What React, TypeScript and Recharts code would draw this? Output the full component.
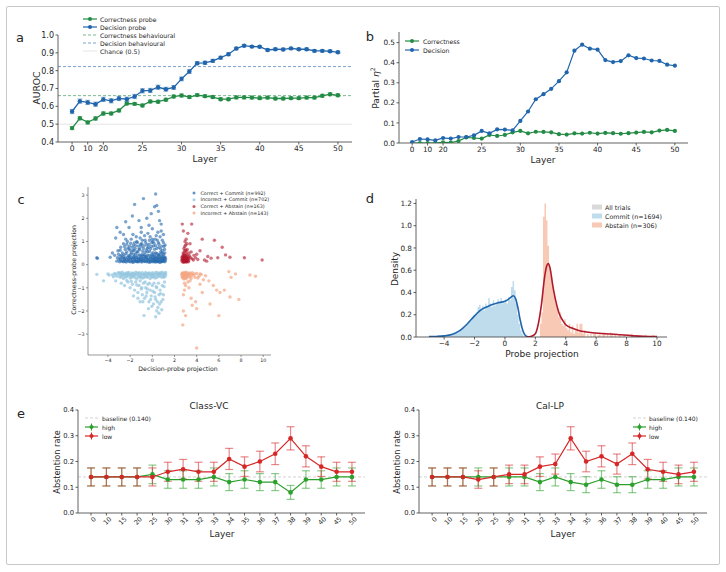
import React from 'react';
import {
  ComposedChart, LineChart, ScatterChart, Line, Area, Scatter,
  XAxis, YAxis, ReferenceLine, ErrorBar,
} from 'recharts';

const FONT = '"DejaVu Sans", Verdana, sans-serif';
const INK = '#262626';
const AXIS = '#3a3a3a';
const GREEN = '#238b45';
const BLUE = '#2166ac';
const RED = '#b2182b';
const LIGHT_BLUE = '#92c5de';
const PEACH = '#f4a582';
const E_GREEN = '#2ca02c';
const E_RED = '#d62728';

// ---- panels a / b : probe metrics per layer
const probeLayers = [0, 5, 10, 15, 20, 21, 22, 23, 24, 25, 26, 27, 28, 29, 30, 31, 32, 33, 34, 35, 36, 37, 38, 39, 40, 41, 42, 43, 44, 45, 46, 47, 48, 49, 50];
const probeTicks = [0, 10, 20, 25, 30, 35, 40, 45, 50];
const corrAuroc = [0.478, 0.533, 0.51, 0.532, 0.56, 0.56, 0.577, 0.616, 0.614, 0.605, 0.627, 0.626, 0.637, 0.655, 0.661, 0.652, 0.663, 0.657, 0.652, 0.64, 0.64, 0.65, 0.65, 0.649, 0.646, 0.649, 0.644, 0.644, 0.646, 0.646, 0.649, 0.649, 0.659, 0.668, 0.662];
const corrAurocErr = [0.009, 0.009, 0.009, 0.009, 0.009, 0.008, 0.008, 0.008, 0.008, 0.008, 0.008, 0.008, 0.008, 0.008, 0.008, 0.008, 0.008, 0.008, 0.008, 0.008, 0.008, 0.008, 0.008, 0.008, 0.008, 0.008, 0.008, 0.008, 0.008, 0.008, 0.008, 0.008, 0.008, 0.008, 0.008];
const decAuroc = [0.571, 0.629, 0.622, 0.612, 0.639, 0.631, 0.644, 0.64, 0.655, 0.687, 0.689, 0.707, 0.696, 0.706, 0.754, 0.795, 0.842, 0.844, 0.855, 0.873, 0.892, 0.924, 0.94, 0.935, 0.934, 0.916, 0.92, 0.919, 0.925, 0.92, 0.92, 0.911, 0.911, 0.909, 0.903];
const decAurocErr = [0.012, 0.012, 0.012, 0.012, 0.012, 0.012, 0.012, 0.012, 0.012, 0.012, 0.012, 0.012, 0.011, 0.011, 0.011, 0.01, 0.009, 0.009, 0.009, 0.008, 0.008, 0.007, 0.006, 0.006, 0.006, 0.007, 0.007, 0.007, 0.006, 0.007, 0.007, 0.007, 0.007, 0.007, 0.007];
const corrEta = [0.0, 0.0, 0.0, 0.0, 0.003, 0.002, 0.01, 0.028, 0.025, 0.022, 0.04, 0.035, 0.04, 0.053, 0.06, 0.048, 0.056, 0.055, 0.053, 0.044, 0.042, 0.048, 0.047, 0.051, 0.047, 0.05, 0.049, 0.046, 0.049, 0.052, 0.055, 0.053, 0.062, 0.065, 0.06];
const decEta = [0.005, 0.02, 0.018, 0.013, 0.025, 0.022, 0.03, 0.03, 0.038, 0.06, 0.048, 0.068, 0.067, 0.063, 0.11, 0.157, 0.218, 0.243, 0.27, 0.308, 0.352, 0.46, 0.49, 0.47, 0.465, 0.413, 0.403, 0.408, 0.437, 0.423, 0.421, 0.411, 0.409, 0.39, 0.385];
const corrBehaviour = 0.66;
const decBehaviour = 0.823;
const chanceLevel = 0.5;

// ---- panel c : probe projections per trial (x = decision, y = correctness)
const correctCommit: [number, number][] = [
  [-3.0, 0.22], [-2.9, 0.35], [-2.8, 0.15], [-2.7, 0.28], [-2.6, 0.12], [-2.55, 0.42], [-2.5, 0.2], [-2.4, 0.3], [-2.35, 0.11], [-2.3, 0.55],
  [-2.2, 0.18], [-2.15, 0.38], [-2.1, 0.25], [-2.0, 0.12], [-1.95, 0.45], [-1.9, 0.3], [-1.85, 0.16], [-1.8, 0.22], [-1.75, 0.6], [-1.7, 0.1],
  [-1.65, 0.35], [-1.6, 0.25], [-1.55, 0.14], [-1.5, 0.48], [-1.45, 0.2], [-1.4, 0.3], [-1.35, 0.12], [-1.3, 0.4], [-1.25, 0.18], [-1.2, 0.26],
  [-1.15, 0.65], [-1.1, 0.15], [-1.05, 0.33], [-1.0, 0.21], [-0.95, 0.11], [-0.9, 0.44], [-0.85, 0.27], [-0.8, 0.17], [-0.75, 0.36], [-0.7, 0.13],
  [-0.65, 0.52], [-0.6, 0.23], [-0.55, 0.31], [-0.5, 0.12], [-0.45, 0.4], [-0.4, 0.19], [-0.35, 0.28], [-0.3, 0.1], [-0.25, 0.58], [-0.2, 0.22],
  [-0.15, 0.34], [-0.1, 0.15], [-0.05, 0.46], [0.0, 0.25], [0.05, 0.12], [0.1, 0.37], [0.15, 0.2], [0.2, 0.3], [0.25, 0.11], [0.3, 0.5],
  [0.35, 0.24], [0.4, 0.16], [0.45, 0.33], [0.5, 0.13], [0.55, 0.42], [0.6, 0.21], [0.65, 0.29], [0.7, 0.1], [0.75, 0.55], [0.8, 0.18],
  [0.85, 0.36], [0.9, 0.14], [0.95, 0.27], [1.0, 0.45], [1.05, 0.2], [1.1, 0.12], [1.15, 0.32], [1.2, 0.24],
  [-3.2, 0.15], [-3.15, 0.3], [-3.05, 0.45], [-2.95, 0.12], [-2.88, 0.24], [-2.78, 0.4], [-2.68, 0.16], [-2.62, 0.33], [-2.52, 0.26], [-2.45, 0.14],
  [-2.38, 0.47], [-2.28, 0.22], [-2.18, 0.32], [-2.12, 0.14], [-2.02, 0.36], [-1.98, 0.24], [-1.88, 0.52], [-1.82, 0.11], [-1.72, 0.3], [-1.68, 0.44],
  [-1.58, 0.19], [-1.52, 0.34], [-1.42, 0.13], [-1.38, 0.56], [-1.28, 0.27], [-1.22, 0.12], [-1.12, 0.42], [-1.08, 0.23], [-0.98, 0.36], [-0.92, 0.16],
  [-0.88, 0.58], [-0.78, 0.26], [-0.72, 0.42], [-0.62, 0.14], [-0.58, 0.35], [-0.48, 0.24], [-0.42, 0.55], [-0.32, 0.17], [-0.28, 0.4], [-0.18, 0.11],
  [-0.12, 0.28], [-0.02, 0.38], [0.02, 0.16], [0.08, 0.52], [0.12, 0.26], [0.18, 0.14], [0.22, 0.42], [0.28, 0.2], [0.32, 0.33], [0.38, 0.12],
  [0.42, 0.48], [0.48, 0.27], [0.52, 0.17], [0.58, 0.38], [0.62, 0.11], [0.68, 0.45], [0.72, 0.24], [0.78, 0.32], [0.82, 0.12], [0.88, 0.5],
  [0.92, 0.22], [0.98, 0.15], [1.02, 0.35], [1.08, 0.28], [1.12, 0.5], [1.18, 0.16],
  [-3.4, 0.4], [-3.1, 0.6], [-2.85, 0.75], [-2.6, 0.9], [-2.45, 0.65], [-2.25, 1.0], [-2.05, 0.8], [-1.9, 1.1], [-1.7, 0.85], [-1.55, 0.7],
  [-1.4, 1.0], [-1.25, 0.8], [-1.1, 1.15], [-0.95, 0.9], [-0.8, 0.7], [-0.65, 1.05], [-0.5, 0.85], [-0.35, 0.75], [-0.2, 1.2], [-0.05, 0.95],
  [0.1, 0.8], [0.25, 1.1], [0.4, 0.7], [0.55, 0.95], [0.7, 1.2], [0.85, 0.8], [1.0, 0.95], [1.1, 0.65], [-2.7, 0.5], [-2.0, 0.62],
  [-1.3, 0.55], [-0.55, 0.62], [0.2, 0.66], [0.9, 0.6], [-1.75, 1.3], [-0.4, 1.35], [0.5, 1.4], [-2.2, 0.72], [-1.0, 0.78], [0.05, 1.0],
  [0.6, 0.75], [-1.6, 0.95], [-0.15, 0.68], [1.15, 0.85],
  [-2.9, 0.62], [-2.5, 0.78], [-2.3, 0.88], [-2.1, 0.68], [-1.95, 0.92], [-1.8, 0.75], [-1.65, 0.62], [-1.5, 0.82], [-1.35, 0.95], [-1.2, 0.68],
  [-1.05, 0.88], [-0.9, 1.05], [-0.75, 0.82], [-0.6, 0.95], [-0.45, 0.7], [-0.3, 0.88], [-0.1, 0.78], [0.0, 1.1], [0.15, 0.92], [0.3, 0.82],
  [0.45, 1.05], [0.6, 0.88], [0.75, 0.68], [0.9, 1.05], [1.05, 0.78], [-1.45, 1.2], [-0.7, 1.25], [0.35, 1.25], [-2.4, 1.1], [-1.0, 1.4],
  [0.8, 1.45], [-0.25, 1.05],
  [-5.0, 0.3], [-4.95, 0.27], [-3.8, 0.32], [-3.6, 0.5], [-3.3, 1.15], [-3.2, 1.6], [-2.9, 1.4], [-2.4, 1.85], [-2.1, 1.6], [-1.8, 2.1],
  [-1.6, 2.6], [-1.2, 1.9], [-1.0, 1.6], [-0.8, 2.85], [-0.5, 2.0], [-0.3, 1.7], [0.0, 1.55], [0.2, 2.5], [0.3, 3.05], [0.4, 2.55],
  [0.55, 2.3], [0.8, 1.75], [1.0, 1.3], [-2.6, 1.3], [-0.1, 2.2], [0.65, 1.9],
];
const incorrectCommit: [number, number][] = [
  [-3.6, -0.45], [-3.4, -0.38], [-3.2, -0.5], [-3.0, -0.35], [-2.9, -0.55], [-2.8, -0.42], [-2.7, -0.33], [-2.6, -0.6], [-2.5, -0.46], [-2.4, -0.37],
  [-2.3, -0.52], [-2.2, -0.4], [-2.1, -0.34], [-2.0, -0.58], [-1.9, -0.44], [-1.8, -0.36], [-1.7, -0.5], [-1.6, -0.41], [-1.5, -0.33], [-1.4, -0.62],
  [-1.3, -0.47], [-1.2, -0.38], [-1.1, -0.54], [-1.0, -0.43], [-0.9, -0.35], [-0.8, -0.57], [-0.7, -0.45], [-0.6, -0.34], [-0.5, -0.51], [-0.4, -0.4],
  [-0.3, -0.36], [-0.2, -0.6], [-0.1, -0.44], [0.0, -0.35], [0.1, -0.53], [0.2, -0.41], [0.3, -0.34], [0.4, -0.56], [0.5, -0.43], [0.6, -0.37],
  [0.7, -0.5], [0.8, -0.4], [0.9, -0.33], [1.0, -0.48], [1.1, -0.38], [1.2, -0.42], [-2.55, -0.4], [-1.95, -0.48], [-1.35, -0.36], [-0.75, -0.41],
  [-0.15, -0.47], [0.45, -0.35], [1.05, -0.55],
  [-3.5, -0.52], [-3.3, -0.42], [-3.1, -0.36], [-2.95, -0.47], [-2.85, -0.36], [-2.75, -0.52], [-2.65, -0.44], [-2.45, -0.55], [-2.35, -0.43], [-2.25, -0.35],
  [-2.15, -0.48], [-2.05, -0.41], [-1.85, -0.55], [-1.75, -0.38], [-1.65, -0.47], [-1.55, -0.56], [-1.45, -0.42], [-1.25, -0.53], [-1.15, -0.35], [-1.05, -0.49],
  [-0.95, -0.58], [-0.85, -0.45], [-0.65, -0.52], [-0.55, -0.39], [-0.45, -0.55], [-0.35, -0.46], [-0.25, -0.37], [-0.05, -0.55], [0.05, -0.4], [0.15, -0.48],
  [0.25, -0.58], [0.35, -0.45], [0.55, -0.5], [0.65, -0.42], [0.75, -0.35], [0.85, -0.55], [0.95, -0.44], [1.15, -0.5], [1.2, -0.34], [-4.0, -0.4],
  [-5.0, -0.42], [-4.4, -0.7], [-3.9, -0.45], [-3.3, -0.7], [-2.8, -0.8], [-2.5, -0.9], [-2.2, -0.75], [-2.0, -1.0], [-1.8, -0.85], [-1.6, -1.1],
  [-1.5, -0.75], [-1.3, -1.2], [-1.2, -0.9], [-1.0, -1.05], [-0.9, -1.3], [-0.8, -0.8], [-0.7, -1.45], [-0.6, -1.0], [-0.5, -1.2], [-0.4, -0.85],
  [-0.3, -1.6], [-0.2, -1.1], [-0.1, -1.35], [0.0, -0.9], [0.1, -1.7], [0.2, -1.2], [0.3, -1.5], [0.4, -1.0], [0.5, -1.85], [0.6, -1.3],
  [0.7, -1.1], [0.8, -1.6], [0.9, -0.9], [1.0, -1.3], [1.1, -0.75], [-0.75, -2.2], [0.3, -2.25], [0.6, -2.1], [-0.35, -1.9], [-1.1, -1.6],
  [-1.7, -1.35], [0.85, -1.95],
  [-2.3, -0.68], [-1.9, -0.72], [-1.4, -0.88], [-1.1, -0.7], [-0.95, -1.0], [-0.65, -0.75], [-0.55, -1.35], [-0.45, -1.05], [-0.25, -0.8], [-0.15, -1.5],
  [0.05, -1.15], [0.15, -0.8], [0.25, -1.4], [0.35, -0.95], [0.45, -1.6], [0.55, -0.8], [0.65, -1.7], [0.75, -1.25], [0.95, -1.5], [1.05, -0.95],
  [-0.05, -1.8], [0.4, -2.0], [-1.3, -1.45], [-0.85, -1.6],
];
const correctAbstain: [number, number][] = [
  [2.65, 0.2], [2.7, 0.12], [2.72, 0.3], [2.75, 0.18], [2.8, 0.25], [2.82, 0.1], [2.85, 0.35], [2.88, 0.15], [2.9, 0.22], [2.92, 0.4],
  [2.95, 0.13], [2.98, 0.28], [3.0, 0.18], [3.02, 0.33], [3.05, 0.11], [3.08, 0.24], [3.1, 0.45], [3.12, 0.16], [3.15, 0.3], [3.2, 0.2],
  [3.25, 0.12], [3.3, 0.27], [3.35, 0.38], [2.78, 0.5], [2.9, 0.6], [3.05, 0.55], [2.85, 0.7], [3.0, 0.85], [3.15, 0.65], [2.95, 1.0],
  [3.05, 1.1], [2.8, 1.45], [3.2, 1.35], [2.7, 1.75], [3.55, 1.75], [3.75, 0.4], [3.9, 0.3], [4.1, 0.22], [3.5, 0.55], [4.3, 0.6],
  [4.5, 1.1], [4.7, 0.2], [5.0, 0.35], [5.3, 0.28], [5.6, 1.05], [5.9, 0.3], [6.3, 0.75], [6.6, 0.42], [7.0, 0.32], [8.3, 0.3],
  [9.9, 0.2], [3.4, 0.9], [3.6, 0.25], [4.0, 0.45], [4.9, 0.15],
  [2.68, 0.32], [2.73, 0.22], [2.77, 0.4], [2.83, 0.28], [2.87, 0.12], [2.93, 0.3], [2.97, 0.2], [3.03, 0.4], [3.07, 0.16], [3.11, 0.3],
  [3.17, 0.22], [3.22, 0.35], [3.28, 0.17], [2.8, 0.36], [2.9, 0.14], [3.0, 0.26], [3.1, 0.12], [2.86, 0.48], [3.02, 0.62], [2.92, 0.78],
  [3.12, 0.9], [3.3, 0.5], [3.45, 0.3], [3.7, 0.2],
];
const incorrectAbstain: [number, number][] = [
  [2.65, -0.4], [2.7, -0.55], [2.75, -0.35], [2.8, -0.48], [2.85, -0.62], [2.9, -0.38], [2.95, -0.5], [3.0, -0.42], [3.05, -0.33], [3.1, -0.58],
  [3.15, -0.45], [3.2, -0.37], [3.3, -0.52], [3.4, -0.4], [3.5, -0.6], [3.6, -0.35], [3.7, -0.46], [3.85, -0.55], [4.0, -0.38], [4.2, -0.5],
  [4.4, -0.42], [4.6, -0.65], [4.8, -0.48], [5.1, -0.7], [5.5, -0.9], [6.1, -1.2], [6.5, -1.1], [6.9, -0.3], [7.1, -0.55], [7.5, -0.4],
  [8.8, -0.45], [9.3, -0.5], [2.8, -1.3], [3.0, -0.9], [3.3, -1.0], [3.5, -1.45], [3.9, -1.6], [4.3, -0.85], [4.5, -1.2], [5.2, -1.7],
  [5.8, -1.1], [7.0, -1.4], [7.8, -1.5], [3.6, -1.75], [2.8, -2.0], [3.0, -2.2], [4.0, -1.9], [6.0, -2.2], [2.75, -2.6], [4.0, -3.6],
  [3.2, -0.75], [2.9, -1.1],
  [2.68, -0.48], [2.72, -0.38], [2.78, -0.58], [2.83, -0.42], [2.88, -0.52], [2.93, -0.35], [2.98, -0.6], [3.03, -0.46], [3.08, -0.4], [3.13, -0.52],
  [3.25, -0.44], [3.35, -0.36], [3.45, -0.5], [3.55, -0.42], [3.8, -0.4], [4.1, -0.58], [4.3, -0.4], [2.9, -0.8], [3.4, -0.7],
];

// ---- panel d : histograms (bin width 0.1) and KDEs
const histBinWidth = 0.1;
const commitHistStart = -5.0;
const commitHist = [
  0.01, 0, 0, 0, 0, 0, 0, 0.01, 0, 0.01, 0.01, 0.02, 0.01, 0.02, 0.03, 0.02, 0.03, 0.04, 0.05, 0.04,
  0.06, 0.07, 0.08, 0.09, 0.11, 0.12, 0.14, 0.15, 0.17, 0.19, 0.2, 0.22, 0.27, 0.29, 0.25, 0.28, 0.24, 0.3, 0.27, 0.35,
  0.3, 0.27, 0.33, 0.28, 0.3, 0.34, 0.3, 0.35, 0.3, 0.31, 0.34, 0.3, 0.36, 0.33, 0.45, 0.5, 0.42, 0.3, 0.2, 0.12,
  0.06, 0.03, 0.01, 0,
];
const abstainHistStart = 2.3;
const abstainHist = [
  0.12, 0.22, 1.08, 1.2, 1.05, 0.82, 0.62, 0.55, 0.45, 0.38, 0.3, 0.26, 0.18, 0.22, 0.12, 0.1, 0.16, 0.08, 0.06, 0.12,
  0.04, 0.1, 0.03, 0.06, 0.12, 0.04, 0.12, 0.12, 0.03, 0.06, 0, 0.03, 0, 0.03, 0, 0.03, 0.04, 0, 0.02, 0.03,
  0, 0.03, 0.04, 0, 0.03, 0, 0.04, 0.03, 0, 0.02, 0, 0, 0.02, 0, 0, 0.02, 0, 0, 0, 0,
  0.03, 0, 0, 0, 0, 0, 0, 0, 0, 0.02, 0, 0, 0, 0, 0.02, 0, 0,
];
const commitKdeX = [-5, -4.5, -4, -3.5, -3, -2.5, -2, -1.5, -1, -0.5, 0, 0.2, 0.4, 0.55, 0.7, 0.85, 1.0, 1.15, 1.3, 1.45, 1.6];
const commitKdeY = [0.003, 0.005, 0.01, 0.022, 0.055, 0.115, 0.19, 0.25, 0.282, 0.305, 0.322, 0.336, 0.358, 0.37, 0.345, 0.265, 0.155, 0.07, 0.022, 0.004, 0];
const abstainKdeX = [1.4, 1.7, 2.0, 2.2, 2.4, 2.6, 2.75, 2.85, 2.95, 3.15, 3.35, 3.6, 3.8, 4.0, 4.4, 4.9, 5.5, 6.2, 7.0, 7.6, 8.3, 9.1, 10.0];
const abstainKdeY = [0, 0.005, 0.03, 0.12, 0.29, 0.53, 0.64, 0.66, 0.63, 0.46, 0.32, 0.2, 0.15, 0.11, 0.08, 0.057, 0.042, 0.033, 0.027, 0.02, 0.012, 0.007, 0.004];

// ---- panel e : abstention rate by steered layer
const steerLayers = ['0', '10', '15', '20', '25', '30', '31', '32', '33', '34', '35', '36', '37', '38', '39', '40', '45', '50'];
const baselineRate = 0.14;
const classVcHigh = [0.14, 0.14, 0.14, 0.14, 0.15, 0.13, 0.13, 0.13, 0.14, 0.12, 0.13, 0.12, 0.12, 0.08, 0.13, 0.13, 0.14, 0.14];
const classVcHighErr = [0.035, 0.035, 0.035, 0.035, 0.036, 0.034, 0.034, 0.034, 0.035, 0.033, 0.034, 0.033, 0.033, 0.027, 0.034, 0.034, 0.035, 0.035];
const classVcLow = [0.14, 0.14, 0.14, 0.14, 0.14, 0.16, 0.17, 0.16, 0.16, 0.21, 0.18, 0.2, 0.23, 0.29, 0.22, 0.18, 0.16, 0.16];
const classVcLowErr = [0.035, 0.035, 0.035, 0.035, 0.035, 0.037, 0.038, 0.037, 0.037, 0.041, 0.038, 0.04, 0.042, 0.045, 0.041, 0.038, 0.037, 0.037];
const calLpHigh = [0.14, 0.14, 0.14, 0.14, 0.14, 0.14, 0.14, 0.12, 0.14, 0.12, 0.11, 0.13, 0.11, 0.11, 0.13, 0.13, 0.14, 0.14];
const calLpHighErr = [0.035, 0.035, 0.035, 0.035, 0.035, 0.035, 0.035, 0.033, 0.035, 0.033, 0.031, 0.034, 0.031, 0.031, 0.034, 0.034, 0.035, 0.035];
const calLpLow = [0.14, 0.14, 0.14, 0.13, 0.14, 0.15, 0.15, 0.18, 0.19, 0.29, 0.2, 0.22, 0.19, 0.23, 0.17, 0.16, 0.15, 0.16];
const calLpLowErr = [0.035, 0.035, 0.035, 0.034, 0.035, 0.036, 0.036, 0.038, 0.039, 0.045, 0.04, 0.041, 0.039, 0.042, 0.038, 0.037, 0.036, 0.037];

const probeRows = probeLayers.map((layer, idx) => ({
  idx, layer,
  corr: corrAuroc[idx], corrErr: corrAurocErr[idx],
  dec: decAuroc[idx], decErr: decAurocErr[idx],
  corrEta: corrEta[idx], decEta: decEta[idx],
}));
const probeTickIdx = probeTicks.map((l) => probeLayers.indexOf(l));

const toPoints = (pts: [number, number][]) => pts.map(([x, y]) => ({ x, y }));
const toSteps = (start: number, heights: number[]) => [
  ...heights.map((h, i) => ({ x: +(start + i * histBinWidth).toFixed(2), h })),
  { x: +(start + heights.length * histBinWidth).toFixed(2), h: 0 },
];
const zipKde = (xs: number[], ys: number[]) => xs.map((x, i) => ({ x, d: ys[i] }));

const minus = (v: number) => String(v).replace('-', '\u2212');
const axisProps = { axisLine: { stroke: AXIS, strokeWidth: 0.8 }, tickLine: { stroke: AXIS, strokeWidth: 0.8 }, tickSize: 2.5, tickMargin: 1.5 };

function PanelA() {
  return (
    <div style={{ position: 'absolute', left: 0, top: 0 }}>
      <ComposedChart width={360} height={175} data={probeRows} margin={{ top: 35, right: 8, bottom: 0, left: 0 }}>
        <XAxis type="number" dataKey="idx" domain={[-1.8, 35.8]} allowDataOverflow ticks={probeTickIdx} interval={0}
          tickFormatter={(v: number) => String(probeLayers[v])} height={33} tick={{ fontSize: 7.6, fill: INK }} {...axisProps} />
        <YAxis type="number" domain={[0.4, 1.0]} allowDataOverflow ticks={[0.4, 0.5, 0.6, 0.7, 0.8, 0.9, 1.0]}
          tickFormatter={(v: number) => v.toFixed(1)} width={58} tick={{ fontSize: 8, fill: INK }} {...axisProps} />
        <ReferenceLine y={chanceLevel} stroke="#dedede" strokeWidth={0.8} />
        <ReferenceLine y={corrBehaviour} stroke={GREEN} strokeOpacity={0.75} strokeWidth={0.8} strokeDasharray="3 2" />
        <ReferenceLine y={decBehaviour} stroke={BLUE} strokeOpacity={0.75} strokeWidth={0.8} strokeDasharray="3 2" />
        <Line dataKey="corr" stroke={GREEN} strokeWidth={1.3} dot={{ r: 2.2, fill: GREEN, stroke: GREEN, strokeWidth: 0 }} activeDot={false} isAnimationActive={false}>
          <ErrorBar dataKey="corrErr" width={2.5} stroke={GREEN} strokeOpacity={0.55} strokeWidth={0.9} isAnimationActive={false} />
        </Line>
        <Line dataKey="dec" stroke={BLUE} strokeWidth={1.3} dot={{ r: 2.2, fill: BLUE, stroke: BLUE, strokeWidth: 0 }} activeDot={false} isAnimationActive={false}>
          <ErrorBar dataKey="decErr" width={2.5} stroke={BLUE} strokeOpacity={0.55} strokeWidth={0.9} isAnimationActive={false} />
        </Line>
      </ComposedChart>
    </div>
  );
}

function PanelB() {
  return (
    <div style={{ position: 'absolute', left: 360, top: 0 }}>
      <ComposedChart width={336} height={175} data={probeRows} margin={{ top: 32, right: 8, bottom: 0, left: 0 }}>
        <XAxis type="number" dataKey="idx" domain={[-1.7, 35.7]} allowDataOverflow ticks={probeTickIdx} interval={0}
          tickFormatter={(v: number) => String(probeLayers[v])} height={32} tick={{ fontSize: 7.3, fill: INK }} {...axisProps} />
        <YAxis type="number" domain={[0, 0.553]} allowDataOverflow ticks={[0, 0.1, 0.2, 0.3, 0.4, 0.5]}
          tickFormatter={(v: number) => v.toFixed(1)} width={39} tick={{ fontSize: 7.3, fill: INK }} {...axisProps} />
        <Line dataKey="corrEta" stroke={GREEN} strokeWidth={1.2} dot={{ r: 2.1, fill: GREEN, stroke: GREEN, strokeWidth: 0 }} activeDot={false} isAnimationActive={false} />
        <Line dataKey="decEta" stroke={BLUE} strokeWidth={1.2} dot={{ r: 2.1, fill: BLUE, stroke: BLUE, strokeWidth: 0 }} activeDot={false} isAnimationActive={false} />
      </ComposedChart>
    </div>
  );
}

const dotShape = (color: string, r: number, op: number) => (p: any) =>
  <circle cx={p.cx} cy={p.cy} r={r} fill={color} fillOpacity={op} />;

function PanelC() {
  const ax = { axisLine: { stroke: '#555', strokeWidth: 0.6 }, tickLine: { stroke: '#555', strokeWidth: 0.6 }, tickSize: 2, tickMargin: 1.5 };
  return (
    <div style={{ position: 'absolute', left: 60, top: 170 }}>
      <ScatterChart width={215} height={215} margin={{ top: 17, right: 4, bottom: 0, left: 0 }}>
        <XAxis type="number" dataKey="x" domain={[-5.8, 10.7]} allowDataOverflow ticks={[-4, -2, 0, 2, 4, 6, 8, 10]} interval={0}
          tickFormatter={minus} height={30} tick={{ fontSize: 4.8, fill: INK }} {...ax} />
        <YAxis type="number" dataKey="y" domain={[-3.9, 3.35]} allowDataOverflow ticks={[-3, -2, -1, 0, 1, 2, 3]} interval={0}
          tickFormatter={minus} width={28} tick={{ fontSize: 4.8, fill: INK }} {...ax} />
        <Scatter data={toPoints(incorrectCommit)} shape={dotShape(LIGHT_BLUE, 1.7, 0.7)} isAnimationActive={false} />
        <Scatter data={toPoints(correctCommit)} shape={dotShape(BLUE, 1.7, 0.6)} isAnimationActive={false} />
        <Scatter data={toPoints(incorrectAbstain)} shape={dotShape(PEACH, 1.7, 0.7)} isAnimationActive={false} />
        <Scatter data={toPoints(correctAbstain)} shape={dotShape(RED, 1.7, 0.6)} isAnimationActive={false} />
      </ScatterChart>
    </div>
  );
}

function PanelD() {
  return (
    <div style={{ position: 'absolute', left: 360, top: 180 }}>
      <ComposedChart width={315} height={190} margin={{ top: 19, right: 8, bottom: 0, left: 0 }}>
        <XAxis type="number" dataKey="x" domain={[-5.85, 10.66]} allowDataOverflow ticks={[-4, -2, 0, 2, 4, 6, 8, 10]} interval={0}
          tickFormatter={minus} height={33} tick={{ fontSize: 7.3, fill: INK }} {...axisProps} />
        <YAxis type="number" domain={[0, 1.24]} allowDataOverflow ticks={[0, 0.2, 0.4, 0.6, 0.8, 1.0, 1.2]}
          tickFormatter={(v: number) => v.toFixed(1)} width={56} tick={{ fontSize: 7.3, fill: INK }} {...axisProps} />
        <Area data={toSteps(commitHistStart, commitHist)} dataKey="h" type="stepAfter" fill={LIGHT_BLUE} fillOpacity={0.6} stroke="none" isAnimationActive={false} />
        <Area data={toSteps(abstainHistStart, abstainHist)} dataKey="h" type="stepAfter" fill={PEACH} fillOpacity={0.6} stroke="none" isAnimationActive={false} />
        <Line data={zipKde(commitKdeX, commitKdeY)} dataKey="d" type="monotone" stroke={BLUE} strokeWidth={1.6} dot={false} activeDot={false} isAnimationActive={false} />
        <Line data={zipKde(abstainKdeX, abstainKdeY)} dataKey="d" type="monotone" stroke={RED} strokeWidth={1.6} dot={false} activeDot={false} isAnimationActive={false} />
      </ComposedChart>
    </div>
  );
}

const RotTick = (props: any) => {
  const { x, y, payload } = props;
  return (
    <g transform={`translate(${x + 2},${y - 1})`}>
      <text textAnchor="end" fontSize={6.5} fill={INK} transform="rotate(-45)" dy="0.75em">{steerLayers[payload.value]}</text>
    </g>
  );
};

function PanelE({ left, width, yw, high, highErr, low, lowErr }:
  { left: number; width: number; yw: number; high: number[]; highErr: number[]; low: number[]; lowErr: number[] }) {
  const rows = steerLayers.map((layer, idx) => ({ idx, layer, high: high[idx], highErr: highErr[idx], low: low[idx], lowErr: lowErr[idx] }));
  return (
    <div style={{ position: 'absolute', left, top: 390 }}>
      <LineChart width={width} height={170} data={rows} margin={{ top: 20, right: 5, bottom: 0, left: 0 }}>
        <XAxis type="number" dataKey="idx" domain={[-0.85, 17.85]} allowDataOverflow ticks={steerLayers.map((_, i) => i)} interval={0}
          tick={<RotTick />} height={47} {...axisProps} />
        <YAxis type="number" domain={[0, 0.4]} allowDataOverflow ticks={[0, 0.1, 0.2, 0.3, 0.4]}
          tickFormatter={(v: number) => v.toFixed(1)} width={yw} tick={{ fontSize: 6.8, fill: INK }} {...axisProps} />
        <ReferenceLine y={baselineRate} stroke="#c8c8c8" strokeWidth={0.8} strokeDasharray="3 2" />
        <Line dataKey="high" stroke={E_GREEN} strokeWidth={1.2} dot={{ r: 2.3, fill: E_GREEN, stroke: E_GREEN, strokeWidth: 0 }} activeDot={false} isAnimationActive={false}>
          <ErrorBar dataKey="highErr" width={4} stroke={E_GREEN} strokeOpacity={0.55} strokeWidth={1.2} isAnimationActive={false} />
        </Line>
        <Line dataKey="low" stroke={E_RED} strokeWidth={1.2} dot={{ r: 2.3, fill: E_RED, stroke: E_RED, strokeWidth: 0 }} activeDot={false} isAnimationActive={false}>
          <ErrorBar dataKey="lowErr" width={4} stroke={E_RED} strokeOpacity={0.55} strokeWidth={1.2} isAnimationActive={false} />
        </Line>
      </LineChart>
    </div>
  );
}

const Txt = ({ x, y, size, children, anchor = 'start', rotate = false }: any) => (
  <text x={x} y={y} fontSize={size} fill={INK} textAnchor={anchor} dominantBaseline="central"
    transform={rotate ? `rotate(-90 ${x} ${y})` : undefined}>{children}</text>
);

const LegLine = ({ x, y, w, color, dash, marker, err, op = 1, sw = 1.2 }: any) => (
  <g>
    <line x1={x} x2={x + w} y1={y} y2={y} stroke={color} strokeWidth={sw} strokeDasharray={dash} strokeOpacity={op} />
    {err && <line x1={x + w / 2} x2={x + w / 2} y1={y - 3.5} y2={y + 3.5} stroke={color} strokeWidth={1} />}
    {marker && <circle cx={x + w / 2} cy={y} r={2} fill={color} />}
  </g>
);

function Overlay() {
  return (
    <svg width={726} height={572} style={{ position: 'absolute', left: 0, top: 0, pointerEvents: 'none' }}>
      {/* panel letters */}
      <Txt x={20} y={37} size={13} anchor="middle">a</Txt>
      <Txt x={370} y={36} size={13} anchor="middle">b</Txt>
      <Txt x={21} y={199} size={13} anchor="middle">c</Txt>
      <Txt x={370} y={198} size={13} anchor="middle">d</Txt>
      <Txt x={21} y={413} size={13} anchor="middle">e</Txt>

      {/* a */}
      <Txt x={36} y={88} size={9.2} anchor="middle" rotate>AUROC</Txt>
      <Txt x={205} y={159} size={9} anchor="middle">Layer</Txt>
      <LegLine x={83} y={19} w={14} color={GREEN} marker />
      <Txt x={100} y={19} size={6.2}>Correctness probe</Txt>
      <LegLine x={83} y={27} w={14} color={BLUE} marker />
      <Txt x={100} y={27} size={6.2}>Decision probe</Txt>
      <LegLine x={83} y={35} w={14} color={GREEN} dash="3 2" op={0.75} sw={0.8} />
      <Txt x={100} y={35} size={6.2}>Correctness behavioural</Txt>
      <LegLine x={83} y={43} w={14} color={BLUE} dash="3 2" op={0.75} sw={0.8} />
      <Txt x={100} y={43} size={6.2}>Decision behavioural</Txt>
      <LegLine x={83} y={51} w={14} color="#dedede" sw={0.8} />
      <Txt x={100} y={51} size={6.2}>Chance (0.5)</Txt>

      {/* b */}
      <text x={375} y={88} fontSize={9.2} fill={INK} textAnchor="middle" dominantBaseline="central" transform="rotate(-90 375 88)">
        <tspan>Partial </tspan><tspan fontStyle="italic">η</tspan><tspan fontSize={6.2} dy={-3.5}>2</tspan>
      </text>
      <Txt x={543} y={160} size={9} anchor="middle">Layer</Txt>
      <LegLine x={405} y={41} w={14} color={GREEN} marker />
      <Txt x={423} y={41} size={6.2}>Correctness</Txt>
      <LegLine x={405} y={50} w={14} color={BLUE} marker />
      <Txt x={423} y={50} size={6.2}>Decision</Txt>

      {/* c */}
      <Txt x={73} y={270} size={6.2} anchor="middle" rotate>Correctness-probe projection</Txt>
      <Txt x={178} y={368} size={6.2} anchor="middle">Decision-probe projection</Txt>
      <circle cx={194} cy={193} r={1.5} fill={BLUE} fillOpacity={0.7} />
      <Txt x={200.5} y={193} size={4.8}>Correct + Commit (n=992)</Txt>
      <circle cx={194} cy={199.7} r={1.5} fill={LIGHT_BLUE} fillOpacity={0.8} />
      <Txt x={200.5} y={199.7} size={4.8}>Incorrect + Commit (n=702)</Txt>
      <circle cx={194} cy={206.4} r={1.5} fill={RED} fillOpacity={0.7} />
      <Txt x={200.5} y={206.4} size={4.8}>Correct + Abstain (n=163)</Txt>
      <circle cx={194} cy={213.1} r={1.5} fill={PEACH} fillOpacity={0.8} />
      <Txt x={200.5} y={213.1} size={4.8}>Incorrect + Abstain (n=143)</Txt>

      {/* d */}
      <Txt x={395} y={269} size={9} anchor="middle" rotate>Density</Txt>
      <Txt x={542} y={354} size={9} anchor="middle">Probe projection</Txt>
      <rect x={592} y={204.5} width={10} height={5} fill="#d9d9d9" />
      <Txt x={605} y={207} size={6.3}>All trials</Txt>
      <rect x={592} y={213.5} width={10} height={5} fill={LIGHT_BLUE} fillOpacity={0.6} />
      <Txt x={605} y={216} size={6.3}>Commit (n=1694)</Txt>
      <rect x={592} y={222.5} width={10} height={5} fill={PEACH} fillOpacity={0.6} />
      <Txt x={605} y={225} size={6.3}>Abstain (n=306)</Txt>

      {/* e left */}
      <Txt x={209} y={406} size={9} anchor="middle">Class-VC</Txt>
      <Txt x={57} y={462} size={8.2} anchor="middle" rotate>Abstention rate</Txt>
      <Txt x={222} y={534} size={9} anchor="middle">Layer</Txt>
      <LegLine x={85} y={418} w={13} color="#c8c8c8" dash="3 2" sw={0.8} />
      <Txt x={102} y={418} size={6}>baseline (0.140)</Txt>
      <LegLine x={85} y={427} w={13} color={E_GREEN} marker err />
      <Txt x={102} y={427} size={6}>high</Txt>
      <LegLine x={85} y={436} w={13} color={E_RED} marker err />
      <Txt x={102} y={436} size={6}>low</Txt>

      {/* e right */}
      <Txt x={550} y={406} size={9} anchor="middle">Cal-LP</Txt>
      <Txt x={397} y={462} size={8.2} anchor="middle" rotate>Abstention rate</Txt>
      <Txt x={563} y={534} size={9} anchor="middle">Layer</Txt>
      <LegLine x={633} y={418} w={13} color="#c8c8c8" dash="3 2" sw={0.8} />
      <Txt x={649} y={418} size={6}>baseline (0.140)</Txt>
      <LegLine x={633} y={427} w={13} color={E_GREEN} marker err />
      <Txt x={649} y={427} size={6}>high</Txt>
      <LegLine x={633} y={436} w={13} color={E_RED} marker err />
      <Txt x={649} y={436} size={6}>low</Txt>
    </svg>
  );
}

export default function App() {
  return (
    <div style={{ position: 'absolute', left: 0, top: 0, width: 726, height: 572, background: '#fff', fontFamily: FONT, color: INK, overflow: 'hidden' }}>
      <div style={{ position: 'absolute', left: 6, top: 6, width: 712, height: 557, border: '1px solid #c9c9c9', borderRadius: 2 }} />
      <PanelA />
      <PanelB />
      <PanelC />
      <PanelD />
      <PanelE left={0} width={370} yw={78} high={classVcHigh} highErr={classVcHighErr} low={classVcLow} lowErr={classVcLowErr} />
      <PanelE left={370} width={342} yw={49} high={calLpHigh} highErr={calLpHighErr} low={calLpLow} lowErr={calLpLowErr} />
      <Overlay />
    </div>
  );
}
